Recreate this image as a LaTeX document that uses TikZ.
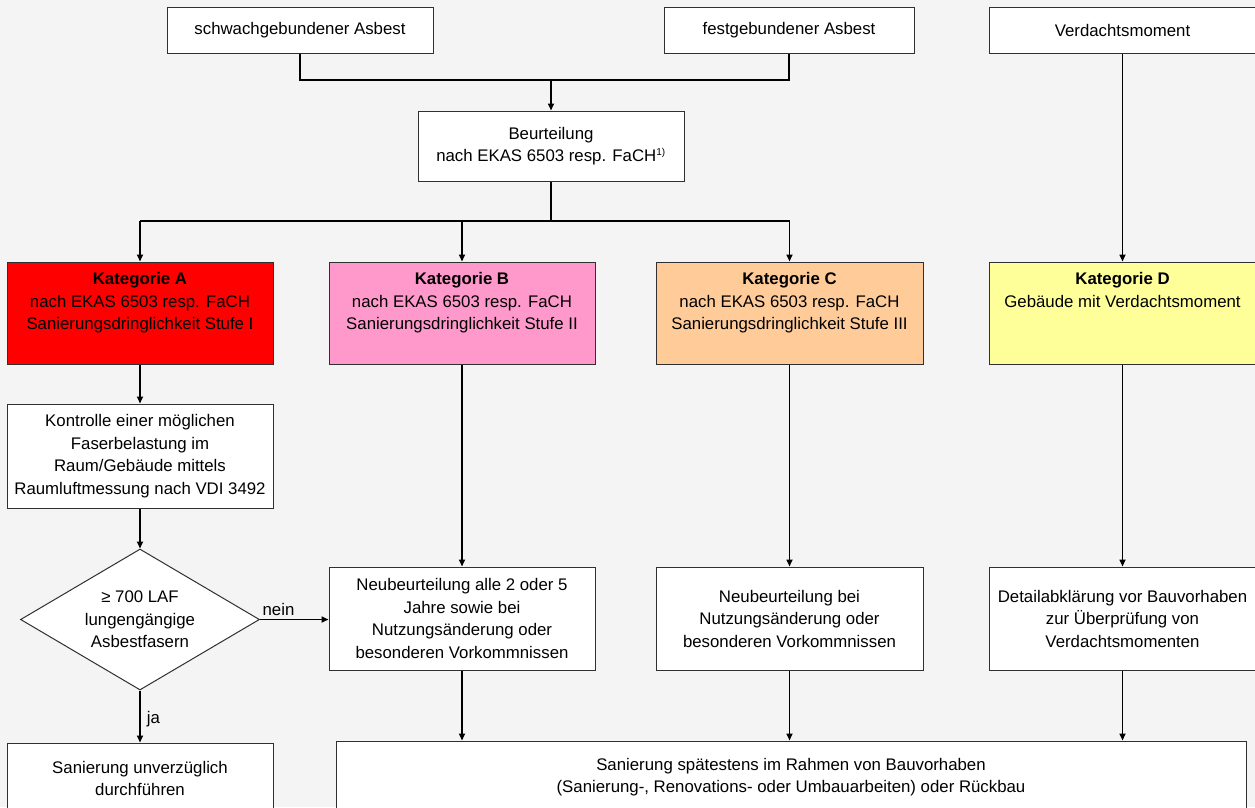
\documentclass[tikz,border=0pt]{standalone}
\usepackage{fontspec}
\setmainfont{Liberation Sans}
\usetikzlibrary{arrows.meta,shapes.geometric,calc}
\definecolor{bg}{HTML}{F4F4F4}
\definecolor{bord}{HTML}{303030}
\definecolor{catA}{HTML}{FF0000}
\definecolor{catB}{HTML}{FF99CC}
\definecolor{catC}{HTML}{FFCC99}
\definecolor{catD}{HTML}{FFFF99}
\tikzset{
  box/.style={draw=bord, line width=1pt, fill=white, rectangle, inner sep=0pt, align=center,
    minimum width=266pt, font=\fontsize{16.8}{22.5}\selectfont},
  catbox/.style={box, minimum height=102pt},
  txt/.style={inner sep=0pt, align=center, font=\fontsize{16.8}{22.5}\selectfont},
  conn/.style={line width=1.6pt, black},
  arr/.style={conn, -{Triangle[length=7pt,width=6pt]}},
}
\begin{document}
\begin{tikzpicture}[x=1pt,y=-1pt]
\fill[bg] (0,0) rectangle (1255,807);
\useasboundingbox (0,0) rectangle (1255,807);
% top row
\node[box, minimum height=46pt] (schw) at (300,30) {schwachgebundener Asbest};
\node[box, minimum height=46pt, minimum width=250pt] (fest) at (789,30) {festgebundener Asbest};
\node[box, minimum height=46pt, minimum width=267pt] (verd) at (1122.5,30) {Verdachtsmoment};
\node[box, minimum height=70pt] (beur) at (551,146) {Beurteilung\\nach EKAS 6503 resp. FaCH\textsuperscript{\fontsize{10}{10}\selectfont 1)}};
% categories
\node[catbox, fill=catA] (A) at (140,313) {};
\node[catbox, fill=catB] (B) at (462,313) {};
\node[catbox, fill=catC, minimum width=267pt] (C) at (789.5,313) {};
\node[catbox, fill=catD, minimum width=267pt] (D) at (1122.5,313) {};
\node[txt, anchor=north] (At) at ($(A.north)+(0,11)$) {\textbf{Kategorie A}\\nach EKAS 6503 resp. FaCH\\Sanierungsdringlichkeit Stufe I};
\node[txt, anchor=north] (Bt) at ($(B.north)+(0,11)$) {\textbf{Kategorie B}\\nach EKAS 6503 resp. FaCH\\Sanierungsdringlichkeit Stufe II};
\node[txt, anchor=north] (Ct) at ($(C.north)+(0,11)$) {\textbf{Kategorie C}\\nach EKAS 6503 resp. FaCH\\Sanierungsdringlichkeit Stufe III};
\node[txt, anchor=north] (Dt) at ($(D.north)+(0,11)$) {\textbf{Kategorie D}\\Gebäude mit Verdachtsmoment};
% second level
\node[box, minimum height=104pt] (K) at (140,456) {Kontrolle einer möglichen\\Faserbelastung im\\Raum/Gebäude mittels\\Raumluftmessung nach VDI 3492};
\node[draw=bord, line width=1pt, fill=white, diamond, inner sep=0pt, minimum width=239pt, minimum height=141pt] (dia) at (140,619.5) {};
\node[txt] (diat) at (dia.center) {≥ 700 LAF\\lungengängige\\Asbestfasern};
\node[box, minimum height=103pt] (B2) at (462,618.5) {Neubeurteilung alle 2 oder 5\\Jahre sowie bei\\Nutzungsänderung oder\\besonderen Vorkommnissen};
\node[box, minimum height=103pt, minimum width=267pt] (C2) at (789.5,618.5) {Neubeurteilung bei\\Nutzungsänderung oder\\besonderen Vorkommnissen};
\node[box, minimum height=103pt, minimum width=267pt] (D2) at (1122.5,618.5) {Detailabklärung vor Bauvorhaben\\zur Überprüfung von\\Verdachtsmomenten};
% bottom
\node[box, minimum height=71pt] (S) at (140,778.5) {Sanierung unverzüglich\\durchführen};
\node[box, minimum height=72pt, minimum width=910pt] (big) at (791,777) {Sanierung spätestens im Rahmen von Bauvorhaben\\(Sanierung-, Renovations- oder Umbauarbeiten) oder Rückbau};
% connectors
\coordinate (j1) at (551,80);
\coordinate (j2) at (551,221);
\draw[conn] (schw.south) |- (j1) -| (fest.south);
\draw[arr] (j1) -- (beur.north);
\draw[conn] (beur.south) -- (j2);
\draw[conn] (A.north |- j2) -- (C.north |- j2);
\draw[arr] (A.north |- j2) -- (A.north);
\draw[arr] (B.north |- j2) -- (B.north);
\draw[arr] (C.north |- j2) -- (C.north);
\draw[arr] (verd.south) -- (D.north);
\draw[arr] (A.south) -- (K.north);
\draw[arr] (K.south) -- (dia.north);
\draw[arr] (dia.east) -- node[above, pos=0.27, txt, yshift=3pt]{nein} (dia.east -| B2.west);
\draw[arr] (dia.south) -- node[right, pos=0.55, txt, xshift=6pt]{ja} (dia.south |- S.north);
\draw[arr] (B.south) -- (B2.north);
\draw[arr] (C.south) -- (C2.north);
\draw[arr] (D.south) -- (D2.north);
\draw[arr] (B2.south) -- (B2.south |- big.north);
\draw[arr] (C2.south) -- (C2.south |- big.north);
\draw[arr] (D2.south) -- (D2.south |- big.north);
\end{tikzpicture}
\end{document}
